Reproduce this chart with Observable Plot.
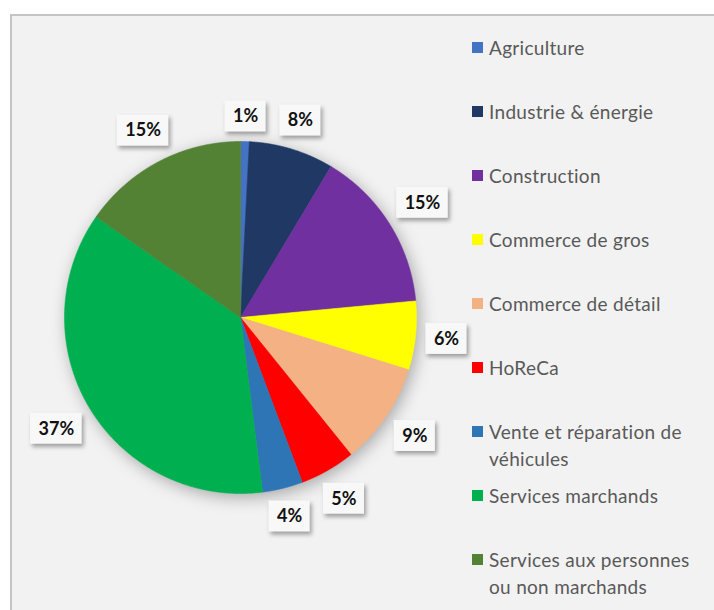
<!DOCTYPE html>
<html><head><meta charset="utf-8">
<script src="https://cdn.jsdelivr.net/npm/d3@7"></script>
<script src="https://cdn.jsdelivr.net/npm/@observablehq/plot@0.6"></script>
<style>
body{margin:0;background:#fff;}
#wrap{position:relative;width:714px;height:610px;overflow:hidden;font-family:Lato,sans-serif;}
#frame{position:absolute;left:10px;top:14px;width:800px;height:700px;background:#f2f2f2;border-left:2px solid #c4c4c4;border-top:2px solid #c4c4c4;}
#chart{position:absolute;left:0;top:0;}
#legend{position:absolute;left:472px;top:0;}
.item{position:absolute;left:0;width:250px;display:flex;align-items:flex-start;font-size:19px;letter-spacing:0.3px;line-height:27px;color:#595959;}
.sw{width:11px;height:11px;margin-top:8px;margin-right:6px;flex:none;}
.lbl{white-space:pre;}
#chart g[aria-label="line"]{filter:drop-shadow(3px 4px 8px rgba(0,0,0,0.3));}
#chart g[aria-label="rect"]{filter:drop-shadow(2px 3px 2px rgba(0,0,0,0.35));}
</style></head><body>
<div id="wrap"><div id="frame"></div><div id="chart"></div><div id="legend"></div></div>
<script>
const categories = ["Agriculture", "Industrie & énergie", "Construction", "Commerce de gros", "Commerce de détail", "HoReCa", "Vente et réparation de véhicules", "Services marchands", "Services aux personnes ou non marchands"];
const legendLabels = ["Agriculture", "Industrie & énergie", "Construction", "Commerce de gros", "Commerce de détail", "HoReCa", "Vente et réparation de\nvéhicules", "Services marchands", "Services aux personnes\nou non marchands"];
const values = [0.8, 7.8, 14.9, 6.3, 9.4, 5.1, 3.7, 36.7, 15.3];
const valueLabels = ["1%", "8%", "15%", "6%", "9%", "5%", "4%", "37%", "15%"];
const colors = ["#4472C4", "#1F3864", "#7030A0", "#FFFF00", "#F4B183", "#FF0000", "#2E75B6", "#00B050", "#548235"];

const R = 176, cx = 240, cy = 317;
const total = d3.sum(values);

// slice outlines
const pts = [];
const labelData = [];
const ctx = document.createElement("canvas").getContext("2d");
ctx.font = "bold 18px Lato";
let acc = 0;
values.forEach((v, i) => {
  const a0 = acc / total * 2 * Math.PI, a1 = (acc + v) / total * 2 * Math.PI;
  acc += v;
  const n = Math.max(2, Math.ceil((a1 - a0) / (0.25 * Math.PI / 180)));
  pts.push({name: categories[i], x: 0, y: 0});
  for (let j = 0; j <= n; j++) {
    const a = a0 + (a1 - a0) * j / n;
    pts.push({name: categories[i], x: Math.sin(a), y: Math.cos(a)});
  }
  const m = (a0 + a1) / 2;
  const hw = (ctx.measureText(valueLabels[i]).width + 16) / 2, hh = 15.5;
  const support = hw * Math.abs(Math.sin(m)) + hh * Math.abs(Math.cos(m));
  const r = (R + 9 + support) / R;
  labelData.push({label: valueLabels[i], lx: r * Math.sin(m), ly: r * Math.cos(m), hw: hw / R, hh: hh / R});
});

const plot = Plot.plot({
  width: 714, height: 610, margin: 0,
  x: {domain: [-1, 1], range: [cx - R, cx + R], axis: null},
  y: {domain: [-1, 1], range: [cy + R, cy - R], axis: null},
  color: {domain: categories, range: colors},
  style: {background: "transparent", overflow: "visible"},
  marks: [
    Plot.line(pts, {x: "x", y: "y", z: "name", fill: "name", stroke: "name", strokeWidth: 0.6, curve: "linear-closed"}),
    Plot.rect(labelData, {x1: d => d.lx - d.hw, x2: d => d.lx + d.hw, y1: d => d.ly - d.hh, y2: d => d.ly + d.hh, fill: "#f8f8f8"}),
    Plot.text(labelData, {x: "lx", y: "ly", text: "label", fontSize: 18, fontWeight: "bold", fill: "#111", fontFamily: "Lato"})
  ]
});
document.getElementById("chart").appendChild(plot);

const legend = document.getElementById("legend");
categories.forEach((c, i) => {
  const it = document.createElement("div");
  it.className = "item";
  it.style.top = (47 + 64 * i - 13.5) + "px";
  const sw = document.createElement("div");
  sw.className = "sw";
  sw.style.background = colors[i];
  const lb = document.createElement("div");
  lb.className = "lbl";
  lb.textContent = legendLabels[i];
  it.appendChild(sw); it.appendChild(lb);
  legend.appendChild(it);
});
</script>
</body></html>
